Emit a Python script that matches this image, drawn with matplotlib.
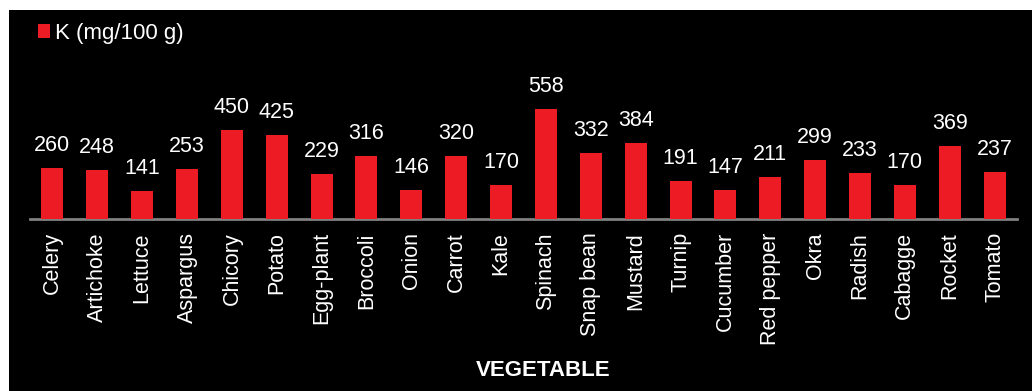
import matplotlib
matplotlib.use("Agg")
import matplotlib.pyplot as plt

plt.rcParams['font.family'] = ['Liberation Sans', 'DejaVu Sans']

# potassium content per vegetable
vegetables = ['Celery', 'Artichoke', 'Lettuce', 'Aspargus', 'Chicory', 'Potato',
              'Egg-plant', 'Broccoli', 'Onion', 'Carrot', 'Kale', 'Spinach',
              'Snap bean', 'Mustard', 'Turnip', 'Cucumber', 'Red pepper', 'Okra',
              'Radish', 'Cabagge', 'Rocket', 'Tomato']
potassium = [260, 248, 141, 253, 450, 425, 229, 316, 146, 320, 170, 558,
             332, 384, 191, 147, 211, 299, 233, 170, 369, 237]

W, H = 1032, 391
fig = plt.figure(figsize=(W / 100, H / 100), dpi=100, facecolor='white')

# black panel behind the chart
bg = fig.add_axes([9 / W, 0, 1 - 9 / W, 1 - 10 / H])
bg.set_facecolor('black')
bg.set_xticks([])
bg.set_yticks([])
for s in bg.spines.values():
    s.set_visible(False)

ax = fig.add_axes([30 / W, 1 - 219 / H, (1017 - 30) / W, (219 - 20) / H])
ax.set_facecolor('none')

x = range(len(vegetables))
bars = ax.bar(x, potassium, width=0.49, color='#ED1C24', label='K (mg/100 g)', zorder=3)

for xi, v in zip(x, potassium):
    ax.annotate(str(v), (xi, v), xytext=(0, 12), textcoords='offset pixels',
                ha='center', va='bottom', color='white', fontsize=15.5)

ax.set_xlim(-0.5, len(vegetables) - 0.5)
ax.set_ylim(0, 1005)
ax.set_xticks(list(x))
ax.set_xticklabels(vegetables, rotation=90, color='white', fontsize=15.5)
ax.tick_params(axis='x', length=0, pad=9.5)
ax.set_yticks([])
for side in ['top', 'right', 'left']:
    ax.spines[side].set_visible(False)
ax.spines['bottom'].set_color('#808080')
ax.spines['bottom'].set_linewidth(2)

fig.text(543 / W, 1 - 376 / H, 'VEGETABLE', ha='center', va='baseline',
         color='white', fontsize=16, fontweight='bold')

leg = fig.legend(handles=[bars], loc='upper left', bbox_to_anchor=(38 / W, 1 - 23 / H),
                 frameon=False, fontsize=16, handlelength=0.55, handleheight=0.55,
                 handletextpad=0.2, borderaxespad=0, borderpad=0)
for t in leg.get_texts():
    t.set_color('white')

fig.savefig('out.png', dpi=100, facecolor='white')
